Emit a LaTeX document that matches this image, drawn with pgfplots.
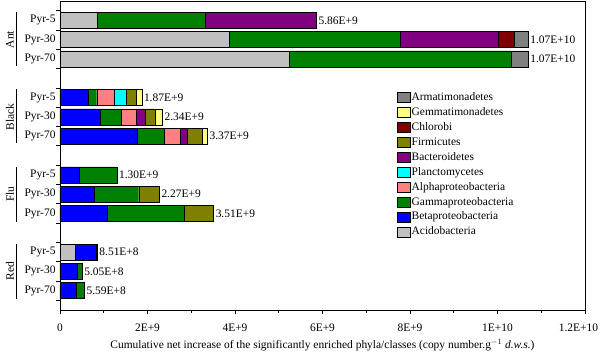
\documentclass[border=0pt]{standalone}
\usepackage{fontspec}
\setmainfont{Liberation Serif}
\usepackage{pgfplots}
\usepackage{pgfplotstable}
\pgfplotsset{compat=1.18}
\definecolor{cacido}{HTML}{C0C0C0}
\definecolor{cbeta}{HTML}{0000FF}
\definecolor{cgamma}{HTML}{008000}
\definecolor{calpha}{HTML}{FF8080}
\definecolor{cplanc}{HTML}{00FFFF}
\definecolor{cbact}{HTML}{800080}
\definecolor{cfirm}{HTML}{808000}
\definecolor{cchlor}{HTML}{800000}
\definecolor{cgemma}{HTML}{FFFF80}
\definecolor{carmat}{HTML}{808080}
\newcommand{\chartfont}{\fontsize{11.5}{13.8}\selectfont}
\tikzset{vlab/.style={anchor=west, inner sep=2bp, font=\chartfont},
  glab/.style={rotate=90, font=\chartfont}}
\pgfplotstableread{
y  acido beta gamma alpha planc bact firm chlor gemma armat
0  0.84  0    2.49  0     0     2.53 0    0     0     0
1  3.86  0    3.91  0     0     2.25 0    0.36  0     0.32
2  5.24  0    5.08  0     0     0    0    0     0     0.38
4  0     0.65 0.19  0.40  0.28  0    0.23 0     0.12  0
5  0     0.93 0.46  0.35  0     0.20 0.23 0     0.17  0
6  0     1.77 0.61  0.36  0     0.16 0.34 0     0.13  0
8  0     0.44 0.86  0     0     0    0    0     0     0
9  0     0.78 1.02  0     0     0    0.47 0     0     0
10 0     1.09 1.74  0     0     0    0.68 0     0     0
12 0.34  0.48 0.03  0     0     0    0    0     0     0
13 0     0.40 0.105 0     0     0    0    0     0     0
14 0     0.38 0.18  0     0     0    0    0     0     0
}\datatable
\begin{document}
\begin{tikzpicture}
\begin{axis}[
  name=ax,
  scale only axis, width=525bp, height=309bp,
  xbar stacked, bar width=16bp,
  xmin=0, xmax=12, ymin=-1, ymax=15, y dir=reverse,
  axis line style={line width=0.7pt},
  xtick={0,2,...,12},
  xticklabels={0,2E+9,4E+9,6E+9,8E+9,1E+10,\hspace*{-13bp}1.2E+10},
  minor xtick={1,3,...,11},
  xtick pos=bottom, ytick pos=left,
  tick align=outside,
  ytick={-0.5,0.5,...,14.5},
  yticklabels={},
  extra y ticks={0,1,2,4,5,6,8,9,10,12,13,14},
  extra y tick labels={Pyr-5,Pyr-30,Pyr-70,Pyr-5,Pyr-30,Pyr-70,Pyr-5,Pyr-30,Pyr-70,Pyr-5,Pyr-30,Pyr-70},
  extra y tick style={major tick length=0pt},
  major tick length=4bp, minor tick length=3bp,
  tick style={black, line width=0.7pt},
  tick label style={font=\chartfont},
  yticklabel style={xshift=-1bp},
  xticklabel style={yshift=-6bp},
  xlabel={Cumulative net increase of the significantly enriched phyla/classes (copy number.g$^{-1}$ \textit{d.w.s.})},
  xlabel style={font=\chartfont, at={(0.5,0)}, anchor=north, yshift=-26bp},
  every axis plot/.append style={draw=black, line width=0.4pt},
  reverse legend,
  legend cell align=left,
  legend style={at={(0.642,0.709)}, anchor=north west, draw=none, fill=none,
    font=\chartfont, row sep=1.8bp, inner sep=0pt,
    nodes={inner sep=1bp, text height=8.6bp, text depth=2.5bp}},
  legend image code/.code={\draw[#1] (0bp,-5bp) rectangle (13bp,5bp);},
  clip=false,
]
\addplot[fill=cacido] table[x=acido,y=y]{\datatable};
\addplot[fill=cbeta] table[x=beta,y=y]{\datatable};
\addplot[fill=cgamma] table[x=gamma,y=y]{\datatable};
\addplot[fill=calpha] table[x=alpha,y=y]{\datatable};
\addplot[fill=cplanc] table[x=planc,y=y]{\datatable};
\addplot[fill=cbact] table[x=bact,y=y]{\datatable};
\addplot[fill=cfirm] table[x=firm,y=y]{\datatable};
\addplot[fill=cchlor] table[x=chlor,y=y]{\datatable};
\addplot[fill=cgemma] table[x=gemma,y=y]{\datatable};
\addplot[fill=carmat] table[x=armat,y=y]{\datatable};
\legend{Acidobacteria,Betaproteobacteria,Gammaproteobacteria,Alphaproteobacteria,Planctomycetes,Bacteroidetes,Firmicutes,Chlorobi,Gemmatimonadetes,Armatimonadetes}
\node[vlab] at (axis cs:5.86,0) {5.86E+9};
\node[vlab] at (axis cs:10.70,1) {1.07E+10};
\node[vlab] at (axis cs:10.70,2) {1.07E+10};
\node[vlab] at (axis cs:1.87,4) {1.87E+9};
\node[vlab] at (axis cs:2.34,5) {2.34E+9};
\node[vlab] at (axis cs:3.37,6) {3.37E+9};
\node[vlab] at (axis cs:1.30,8) {1.30E+9};
\node[vlab] at (axis cs:2.27,9) {2.27E+9};
\node[vlab] at (axis cs:3.51,10) {3.51E+9};
\node[vlab] at (axis cs:0.851,12) {8.51E+8};
\node[vlab] at (axis cs:0.505,13) {5.05E+8};
\node[vlab] at (axis cs:0.559,14) {5.59E+8};
\node[glab] at (axis cs:-1.143,1) {Ant};
\node[glab] at (axis cs:-1.143,5) {Black};
\node[glab] at (axis cs:-1.143,9) {Flu};
\node[glab] at (axis cs:-1.143,13) {Red};
\draw[line width=0.7pt] (axis cs:-1.0,-0.45) -- (axis cs:-1.0,2.35);
\draw[line width=0.7pt] (axis cs:-1.0,3.55) -- (axis cs:-1.0,6.35);
\draw[line width=0.7pt] (axis cs:-1.0,7.6) -- (axis cs:-1.0,10.45);
\draw[line width=0.7pt] (axis cs:-1.0,11.6) -- (axis cs:-1.0,14.45);
\end{axis}
\pgfresetboundingbox
\path[use as bounding box] ([xshift=-60bp,yshift=-43bp]ax.south west) rectangle ([xshift=15bp,yshift=1bp]ax.north east);
\end{tikzpicture}
\end{document}
